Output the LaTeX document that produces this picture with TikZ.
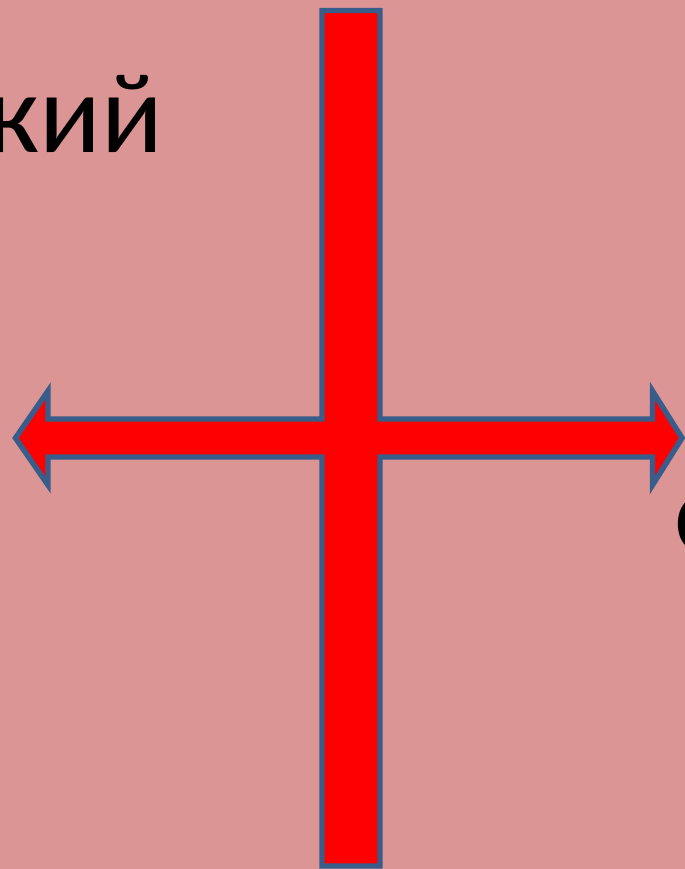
\documentclass[tikz,border=0pt]{standalone}
\usepackage{fontspec}
\setmainfont{Carlito}
\definecolor{slidepink}{RGB}{219,149,148}
\definecolor{crossred}{RGB}{255,0,0}
\definecolor{crossedge}{RGB}{56,93,138}

\begin{document}
\begin{tikzpicture}[x=0.02cm, y=-0.02cm,
 word/.style={font=\fontsize{65}{78}\selectfont,inner sep=0pt,text=black},
 cross/.style={fill=crossred,draw=crossedge,line width=3.1pt,line join=miter}]
\useasboundingbox (0,0) rectangle (685,869);
\clip (0,0) rectangle (685,869);
\fill[slidepink] (0,0) rectangle (685,869);
% cross with double arrow
\draw[cross] (322,10.5) -- (380,10.5) -- (380,419) -- (652.5,419) -- (652.5,391)
 -- (682,438) -- (652.5,485) -- (652.5,457) -- (380,457) -- (380,866)
 -- (322,866) -- (322,457) -- (48,457) -- (48,485) -- (15.5,438) -- (48,391)
 -- (48,419) -- (322,419) -- cycle;
% cut-off words
\node[word,anchor=base west] (upper) at (-14,152) {кий};
\node[word,anchor=base west] (lower) at (674,551) {с};
\end{tikzpicture}
\end{document}
